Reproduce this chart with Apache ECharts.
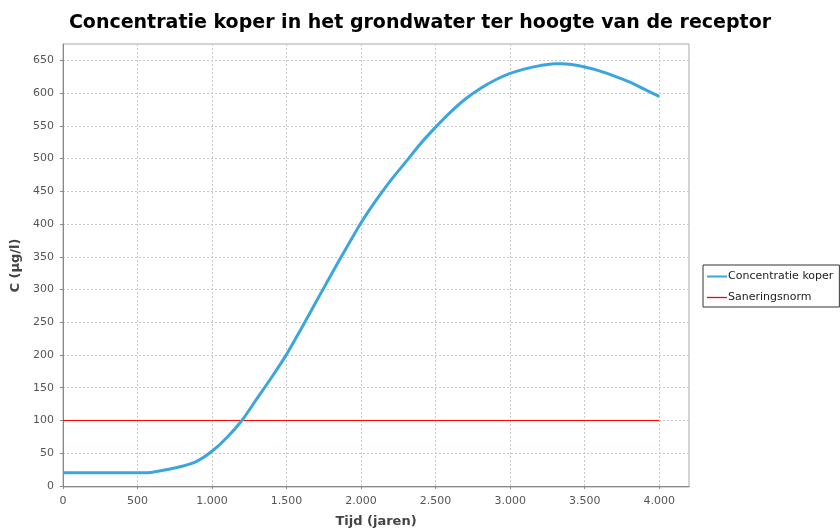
<!DOCTYPE html>
<html><head><meta charset="utf-8">
<script src="https://cdn.jsdelivr.net/npm/echarts@6/dist/echarts.min.js"></script>
<style>html,body{margin:0;padding:0;background:#fff}#c{width:840px;height:531px}</style>
</head><body><div id="c"></div>
<script>
const years = [0,100,200,300,400,500,550,600,700,800,900,1000,1100,1200,1300,1400,1500,1600,1700,1800,1900,2000,2100,2200,2300,2400,2500,2600,2700,2800,2900,3000,3100,3200,3300,3350,3400,3500,3600,3700,3800,3900,4000];
const koper = [20,20,20,20,20,20,20,21,25,30,38,53,74,100,133,166,201,241,282,323,363,402,436,467,495,523,548,571,591,607,620,630,637,642,645,645,644,640,634,626,617,606,595];
const norm = [[0,100],[4000,100]];
const xTicks = [0,500,1000,1500,2000,2500,3000,3500,4000];
const yTicks = [0,50,100,150,200,250,300,350,400,450,500,550,600,650];
const fmt = v => { const s = String(v); return s.length > 3 ? s.slice(0, s.length-3) + '.' + s.slice(-3) : s; };
const chart = echarts.init(document.getElementById('c'));
chart.setOption({
  animation: false,
  backgroundColor: '#fff',
  title: {
    text: 'Concentratie koper in het grondwater ter hoogte van de receptor',
    left: 'center', top: 9,
    textStyle: {fontFamily: 'DejaVu Sans', fontWeight: 'bold', fontSize: 19, color: '#000'}
  },
  legend: {
    left: 703, top: 265, orient: 'vertical',
    padding: [6, 6, 4, 4], itemGap: 10,
    borderColor: '#333', borderWidth: 1,
    itemWidth: 20, itemHeight: 8,
    textStyle: {fontFamily: 'DejaVu Sans', fontSize: 11, color: '#222', padding: [0,0,0,-4]},
    data: [
      {name: 'Concentratie koper', icon: 'path://M0,0H20V2H0Z', itemStyle: {color: '#3aa6dd', borderWidth: 0}, lineStyle: {width: 0}},
      {name: 'Saneringsnorm', icon: 'path://M0,0H20V1.3H0Z', itemStyle: {color: '#ff0000', borderWidth: 0}, lineStyle: {width: 0}}
    ]
  },
  grid: {left: 63, right: 151, top: 44, bottom: 44, outerBoundsMode: 'none', containLabel: false, show: true, borderColor: '#aaa', borderWidth: 1, backgroundColor: '#fff'},
  xAxis: {
    type: 'value', min: 0, max: 4200,
    name: 'Tijd (jaren)', nameLocation: 'middle', nameGap: 25,
    nameTextStyle: {fontFamily: 'DejaVu Sans', fontWeight: 'bold', fontSize: 13, color: '#444'},
    offset: 3,
    axisLine: {show: true, lineStyle: {color: '#888'}},
    axisTick: {show: true, length: 3, customValues: xTicks, lineStyle: {color: '#888'}},
    axisLabel: {customValues: xTicks, formatter: fmt, fontFamily: 'DejaVu Sans', fontSize: 11, color: '#555', margin: 6},
    splitLine: {show: true, lineStyle: {color: '#c8c8c8', type: [2, 2]}}
  },
  yAxis: {
    type: 'value', min: -1.6, max: 675,
    name: 'C (µg/l)', nameLocation: 'middle', nameGap: 32, nameRotate: 90,
    nameTextStyle: {fontFamily: 'DejaVu Sans', fontWeight: 'bold', fontSize: 13, color: '#444'},
    offset: 4,
    axisLine: {show: true, lineStyle: {color: '#888'}},
    axisTick: {show: true, length: 3, customValues: yTicks, lineStyle: {color: '#888'}},
    axisLabel: {customValues: yTicks, fontFamily: 'DejaVu Sans', fontSize: 11, color: '#555', margin: 5},
    splitLine: {show: true, lineStyle: {color: '#c8c8c8', type: [2, 2]}}
  },
  series: [
    {name: 'Concentratie koper', type: 'line', data: years.map((y, i) => [y, koper[i]]), smooth: 0.3, showSymbol: false,
     lineStyle: {color: '#3aa6dd', width: 3}, itemStyle: {color: '#3aa6dd'}, z: 3},
    {name: 'Saneringsnorm', type: 'line', data: norm, showSymbol: false,
     lineStyle: {color: '#ff0000', width: 1}, itemStyle: {color: '#ff0000'}, z: 2}
  ]
});
</script></body></html>
